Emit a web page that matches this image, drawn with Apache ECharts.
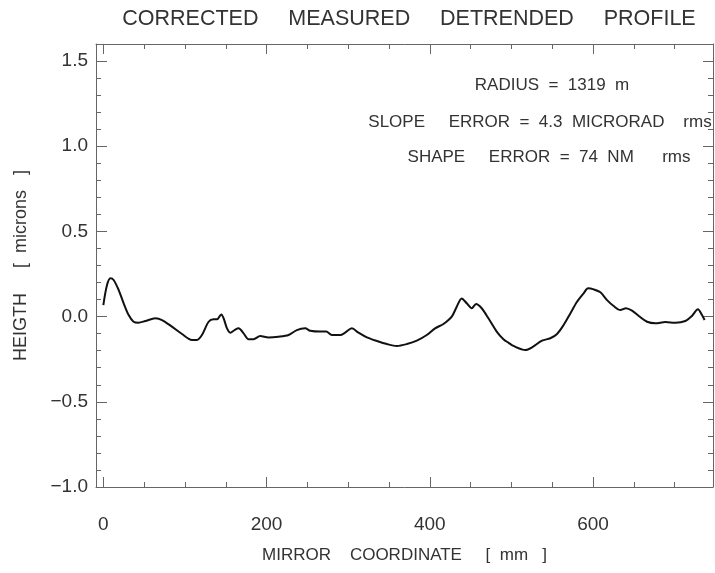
<!DOCTYPE html>
<html>
<head>
<meta charset="utf-8">
<script src="https://cdn.jsdelivr.net/npm/echarts@6/dist/echarts.min.js"></script>
<style>html,body{margin:0;padding:0;background:#fff}#c{width:715px;height:573px}</style>
</head>
<body>
<div id="c"></div>
<script>
// ---- data ----
var mirrorCoordinate = [0,4.5,8.6,12.6,18.8,24.9,31,37,43,51.4,63.7,71.9,84,96.4,108.6,114.7,120.8,129,135,139.2,144.5,147.4,151.5,155.6,160.8,165.7,171.8,178,184,192.2,202.4,214.6,226.9,237.1,247.3,253.5,265.7,273,280,290.2,296.3,304.5,312.6,322.9,335.1,347.4,359.6,371.9,384.1,396.3,406.5,416.7,426.9,433,439.1,445.3,451.4,456.7,463.6,471.8,482,490.2,496.3,502.4,517.1,525.3,537.5,547.7,555.9,564,572.2,580.4,588.5,593.9,600.8,609,617.2,625.3,633.5,640.4,647.8,656,666.2,676.4,688.6,700.9,713.1,721.2,728.5,733.5,736.7];
var heightMicrons = [0.068,0.185,0.225,0.215,0.156,0.078,0.009,-0.03,-0.036,-0.026,-0.01,-0.02,-0.059,-0.102,-0.137,-0.137,-0.108,-0.03,-0.016,-0.016,0.013,-0.01,-0.069,-0.094,-0.079,-0.069,-0.098,-0.133,-0.133,-0.114,-0.122,-0.118,-0.108,-0.079,-0.069,-0.083,-0.088,-0.088,-0.108,-0.108,-0.094,-0.069,-0.094,-0.122,-0.143,-0.161,-0.172,-0.161,-0.141,-0.108,-0.069,-0.043,0.0,0.058,0.107,0.078,0.049,0.074,0.049,-0.01,-0.088,-0.133,-0.153,-0.172,-0.196,-0.18,-0.141,-0.127,-0.102,-0.049,0.019,0.087,0.137,0.166,0.16,0.143,0.097,0.062,0.039,0.049,0.035,0.004,-0.03,-0.039,-0.032,-0.036,-0.026,0.004,0.043,0.009,-0.02];
var xMajorTicks = [0,200,400,600];
var xMinorTicks = [50,100,150,250,300,350,450,500,550,650,700];
var yMajorTicks = [-1.0,-0.5,0.0,0.5,1.0,1.5];
var yMinorTicks = [-0.9,-0.8,-0.7,-0.6,-0.4,-0.3,-0.2,-0.1,0.1,0.2,0.3,0.4,0.6,0.7,0.8,0.9,1.1,1.2,1.3,1.4];
var titleText = 'CORRECTED     MEASURED     DETRENDED     PROFILE';
var xTitle = 'MIRROR    COORDINATE     [  mm   ]';
var yTitle = 'HEIGTH     [  microns   ]';
var notes = ['RADIUS  =  1319  m', 'SLOPE     ERROR  =  4.3  MICRORAD    rms', 'SHAPE     ERROR  =  74  NM      rms'];

var X_MIN = -9, X_MAX = 747, Y_MIN = -1.0, Y_MAX = 1.6;
var FONT = 'Liberation Sans';
var AX = '#666', TXT = '#333';

var series = [];
for (var i = 0; i < mirrorCoordinate.length; i++) series.push([mirrorCoordinate[i], heightMicrons[i]]);

function xAx(pos, ticks, len, labels, line, name) {
  return {
    type: 'value', position: pos, min: X_MIN, max: X_MAX,
    axisLine: {show: line, onZero: false, lineStyle: {color: AX, width: 1}},
    axisTick: {show: true, inside: true, length: len, customValues: ticks, lineStyle: {color: AX, width: 1}},
    axisLabel: labels ? {show: true, customValues: ticks, margin: 28, color: TXT, fontFamily: FONT, fontSize: 19,
      formatter: function (v) { return String(v); }} : {show: false},
    splitLine: {show: false},
    name: name || '', nameLocation: 'middle', nameGap: 60,
    nameTextStyle: {color: TXT, fontFamily: FONT, fontSize: 17}
  };
}
function yAx(pos, ticks, len, labels, line, name) {
  return {
    type: 'value', position: pos, min: Y_MIN, max: Y_MAX,
    axisLine: {show: line, onZero: false, lineStyle: {color: AX, width: 1}},
    axisTick: {show: true, inside: true, length: len, customValues: ticks, lineStyle: {color: AX, width: 1}},
    axisLabel: labels ? {show: true, customValues: ticks, margin: 8, color: TXT, fontFamily: FONT, fontSize: 19,
      formatter: function (v) { return v.toFixed(1).replace('-', '\u2212'); }} : {show: false},
    splitLine: {show: false},
    name: name || '', nameLocation: 'middle', nameGap: 66, nameRotate: 90,
    nameTextStyle: {color: TXT, fontFamily: FONT, fontSize: 18}
  };
}

var chart = echarts.init(document.getElementById('c'), null, {renderer: 'canvas'});
chart.setOption({
  backgroundColor: '#fff',
  animation: false,
  grid: {left: 96, right: 2, top: 44, bottom: 86, containLabel: false},
  xAxis: [
    xAx('bottom', xMajorTicks, 10, true, true, xTitle),
    xAx('bottom', xMinorTicks, 5, false, false),
    xAx('top', xMajorTicks, 10, false, true),
    xAx('top', xMinorTicks, 5, false, false)
  ],
  yAxis: [
    yAx('left', yMajorTicks, 11, true, true, yTitle),
    yAx('left', yMinorTicks, 5, false, false),
    yAx('right', yMajorTicks, 10, false, true),
    yAx('right', yMinorTicks, 5, false, false)
  ],
  graphic: [
    {type: 'text', x: 409, y: 19, style: {text: titleText, fill: TXT, font: '21.5px "' + FONT + '"', textAlign: 'center', textVerticalAlign: 'middle'}},
    {type: 'text', x: 552, y: 85, style: {text: notes[0], fill: TXT, font: '17px "' + FONT + '"', textAlign: 'center', textVerticalAlign: 'middle'}},
    {type: 'text', x: 540, y: 122, style: {text: notes[1], fill: TXT, font: '17px "' + FONT + '"', textAlign: 'center', textVerticalAlign: 'middle'}},
    {type: 'text', x: 549, y: 157, style: {text: notes[2], fill: TXT, font: '17px "' + FONT + '"', textAlign: 'center', textVerticalAlign: 'middle'}}
  ],
  series: [{
    type: 'line', xAxisIndex: 0, yAxisIndex: 0, data: series,
    showSymbol: false, smooth: 0.3,
    lineStyle: {color: '#111', width: 2}
  }]
});
</script>
</body>
</html>
